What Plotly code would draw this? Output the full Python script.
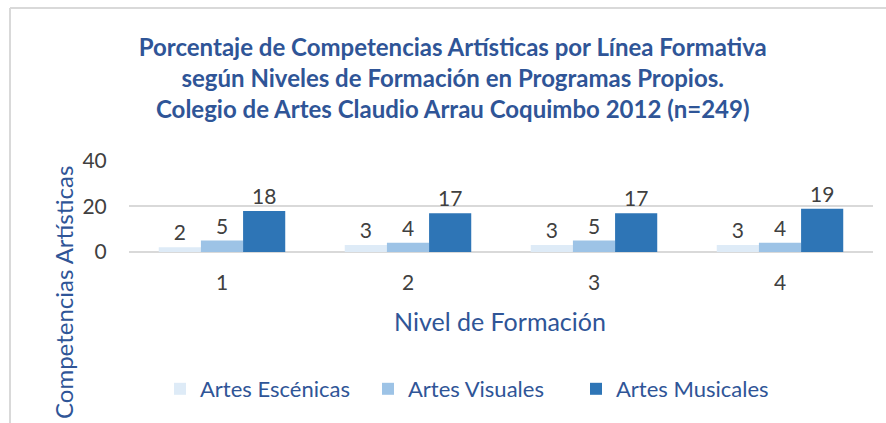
import plotly.graph_objects as go

niveles = ["1", "2", "3", "4"]
artes_escenicas = [2, 3, 3, 3]
artes_visuales = [5, 4, 5, 4]
artes_musicales = [18, 17, 17, 19]
series_names = ["Artes Escénicas", "Artes Visuales", "Artes Musicales"]
series_colors = ["#DEEBF7", "#9DC3E6", "#2E75B6"]

W, H = 886, 423
ML, MR, MT, MB = 129, 13, 161, 162
pw = W - ML - MR
ph = H - MT - MB

def px(x):
    return (x - ML) / pw

def py(y):
    return (H - MB - y) / ph

blue = "#2F5597"
gray = "#404040"
FONT = "Lato"

fig = go.Figure()
for name, vals, col in zip(series_names, [artes_escenicas, artes_visuales, artes_musicales], series_colors):
    fig.add_trace(go.Bar(
        x=niveles, y=vals, name=name, marker=dict(color=col, line=dict(width=0)),
        text=[str(v) for v in vals], textposition="outside",
        textfont=dict(family=FONT, size=21, color=gray), cliponaxis=False,
    ))

fig.update_layout(
    width=W, height=H,
    margin=dict(l=ML, r=MR, t=MT, b=MB, autoexpand=False),
    paper_bgcolor="white", plot_bgcolor="white",
    barmode="group", bargap=0.32, bargroupgap=0,
    font=dict(family=FONT, color=gray),
    title=dict(
        text="Porcentaje de Competencias Artísticas por Línea Formativa<br>según Niveles de Formación en Programas Propios.<br>Colegio de Artes Claudio Arrau Coquimbo 2012 (n=249)",
        x=0.511, xref="container", xanchor="center",
        y=1 - 56 / H, yref="container", yanchor="top",
        font=dict(family=FONT, size=24, color=blue, weight="bold"),
    ),
    showlegend=True,
    legend=dict(
        orientation="h", x=px(160), xanchor="left", y=py(389), yanchor="middle",
        font=dict(family=FONT, size=22, color=blue),
        entrywidth=163, entrywidthmode="pixels",
        traceorder="normal", bgcolor="rgba(0,0,0,0)",
    ),
    xaxis=dict(
        type="category", showgrid=False, showline=False,
        ticks="outside", ticklen=3, tickcolor="rgba(0,0,0,0)",
        tickfont=dict(family=FONT, size=21, color=gray),
    ),
    yaxis=dict(
        range=[-4, 40], tickvals=[0, 20, 40], showgrid=True, gridcolor="#D9D9D9", gridwidth=1.5,
        zeroline=True, zerolinecolor="#D9D9D9", zerolinewidth=2,
        ticks="outside", ticklen=17, tickcolor="rgba(0,0,0,0)",
        tickfont=dict(family=FONT, size=21, color=gray), showline=False,
    ),
    annotations=[
        dict(text="Nivel de Formación", xref="paper", yref="paper", x=px(500), y=py(321),
             xanchor="center", yanchor="middle", showarrow=False,
             font=dict(family=FONT, size=25, color=blue)),
        dict(text="Competencias Artísticas", xref="paper", yref="paper", x=px(63), y=py(293),
             xanchor="center", yanchor="middle", showarrow=False, textangle=-90,
             font=dict(family=FONT, size=24, color=blue)),
    ],
    shapes=[
        dict(type="line", xref="paper", yref="paper", x0=px(10), x1=px(W + 5), y0=py(8), y1=py(8),
             line=dict(color="#D9D9D9", width=2)),
        dict(type="line", xref="paper", yref="paper", x0=px(10), x1=px(10), y0=py(8), y1=py(H + 5),
             line=dict(color="#D9D9D9", width=2)),
    ],
)

fig.write_html("out.html")
